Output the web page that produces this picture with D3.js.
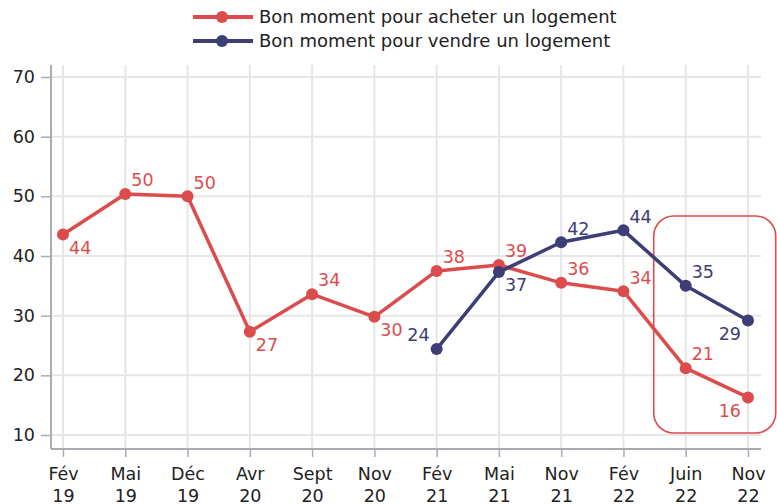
<!DOCTYPE html>
<html><head><meta charset="utf-8">
<script src="https://cdn.jsdelivr.net/npm/d3@7"></script>
<style>body{margin:0;background:#fff}svg{display:block;font-family:"DejaVu Sans",sans-serif}</style>
</head><body><svg id="c" width="777" height="504"></svg>
<script>
const categories = ["Fév 19","Mai 19","Déc 19","Avr 20","Sept 20","Nov 20","Fév 21","Mai 21","Nov 21","Fév 22","Juin 22","Nov 22"];
const acheter = [43.6,50.4,50.0,27.3,33.6,29.8,37.5,38.5,35.5,34.1,21.2,16.3];
const vendre = [null,null,null,null,null,null,24.4,37.3,42.3,44.3,35.0,29.2];
const yTicks = [10,20,30,40,50,60,70];
const seriesNames = ["Bon moment pour acheter un logement","Bon moment pour vendre un logement"];
const colors = ["#dc4c4c","#3d3e75"];
const acheterLabelPos = ["br","tr","tr","br","tr","br","tr","tr","tr","tr","tr","bl"];
const vendreLabelPos = [null,null,null,null,null,null,"tl","br","tr","tr","tr","bl"];

(function(){
const svg = d3.select("#c");
const x = d3.scalePoint().domain(categories).range([63,748]);
const y = d3.scaleLinear().domain([10,70]).range([435,77]);
const L=51, R=761, T=65, B=449;
const FS=17.5;

svg.append("g").selectAll("line").data(yTicks).join("line")
  .attr("x1",L).attr("x2",R).attr("y1",d=>y(d)).attr("y2",d=>y(d))
  .attr("stroke","#e6e6e6").attr("stroke-width",2);
svg.append("g").selectAll("line").data(categories).join("line")
  .attr("x1",d=>x(d)).attr("x2",d=>x(d)).attr("y1",T).attr("y2",B)
  .attr("stroke","#e6e6e6").attr("stroke-width",2);

const ya = svg.append("g").attr("transform",`translate(${L},0)`)
  .call(d3.axisLeft(y).tickValues(yTicks).tickSize(10).tickPadding(6));
ya.select(".domain").attr("d",`M0,${T}V${B}`);
const xa = svg.append("g").attr("transform",`translate(0,${B})`)
  .call(d3.axisBottom(x).tickSize(8).tickPadding(11));
xa.select(".domain").attr("d",`M${L},0H${R}`);
[ya,xa].forEach(a=>{
  a.select(".domain").attr("stroke","#a9abb0").attr("stroke-width",2);
  a.selectAll(".tick line").attr("stroke","#a9abb0").attr("stroke-width",1.5);
  a.selectAll("text").attr("fill","#222").attr("font-size",FS).attr("font-family","DejaVu Sans");
});
xa.selectAll(".tick text").each(function(d){
  const parts=d.split(" ");
  const t=d3.select(this).attr("dy",null).text(null);
  t.append("tspan").attr("x",0).attr("dy","0.71em").text(parts[0]);
  t.append("tspan").attr("x",0).attr("dy","1.24em").text(parts[1]);
});

svg.append("rect").attr("x",x("Juin 22")-32).attr("y",216).attr("width",122).attr("height",217)
  .attr("rx",20).attr("fill","none").attr("stroke","#dc4c4c").attr("stroke-width",1.6);

function drawSeries(vals,color,pos){
  const pts = categories.map((c,i)=>({c,v:vals[i],p:pos[i]})).filter(d=>d.v!=null);
  svg.append("path").datum(pts)
    .attr("d",d3.line().x(d=>x(d.c)).y(d=>y(d.v)))
    .attr("fill","none").attr("stroke",color).attr("stroke-width",3.5).attr("stroke-linejoin","round");
  svg.append("g").selectAll("circle").data(pts).join("circle")
    .attr("cx",d=>x(d.c)).attr("cy",d=>y(d.v)).attr("r",6).attr("fill",color);
  svg.append("g").selectAll("text").data(pts).join("text")
    .attr("x",d=>x(d.c)+(d.p[1]==="r"?6:-7))
    .attr("y",d=>y(d.v)+(d.p[0]==="t"?-14:13))
    .attr("dy","0.36em")
    .attr("text-anchor",d=>d.p[1]==="r"?"start":"end")
    .attr("font-size",FS).attr("fill",color)
    .text(d=>Math.round(d.v));
}
drawSeries(acheter,colors[0],acheterLabelPos);
drawSeries(vendre,colors[1],vendreLabelPos);

const lg = svg.append("g");
seriesNames.forEach((n,i)=>{
  const yy = 17+i*24;
  lg.append("line").attr("x1",193).attr("x2",253).attr("y1",yy).attr("y2",yy)
    .attr("stroke",colors[i]).attr("stroke-width",4);
  lg.append("circle").attr("cx",222).attr("cy",yy).attr("r",6).attr("fill",colors[i]);
  lg.append("text").attr("x",259).attr("y",yy).attr("dy","0.36em")
    .attr("font-size",18).attr("fill","#222").text(n);
});
})();
</script></body></html>
